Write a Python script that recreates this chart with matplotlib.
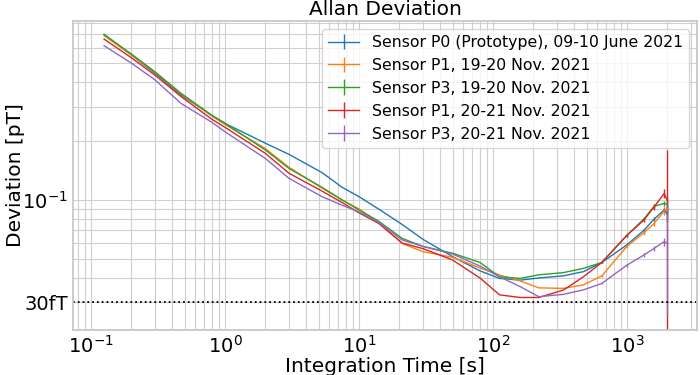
import matplotlib
matplotlib.use("Agg")
import matplotlib.pyplot as plt
import numpy as np

# integration times [s]
tau = [0.125, 0.2, 0.3, 0.47, 0.8, 1.0, 2.0, 3.0, 5.3, 7.5, 10, 14, 21, 30, 50,
       80, 112, 160, 220, 336, 475, 650, 1000, 1340, 1600, 1900, 2000]

# Allan deviation [pT]
p0_june = [0.70, 0.55, 0.443, 0.343, 0.27, 0.246, 0.195, 0.171, 0.138, 0.116,
           0.104, 0.090, 0.075, 0.063, 0.0514, 0.0435, 0.0398, 0.039, 0.040,
           0.041, 0.0431, 0.048, 0.059, 0.070, 0.080, 0.089, 0.085]
p1_nov19 = [0.69, 0.55, 0.448, 0.348, 0.268, 0.243, 0.183, 0.147, 0.115, 0.100,
            0.090, 0.077, 0.060, 0.0545, 0.051, 0.045, 0.0414, 0.0386, 0.0356,
            0.0354, 0.0369, 0.041, 0.058, 0.068, 0.076, 0.088, 0.090]
p3_nov19 = [0.70, 0.556, 0.451, 0.350, 0.27, 0.246, 0.180, 0.145, 0.116, 0.100,
            0.089, 0.078, 0.0637, 0.058, 0.0535, 0.048, 0.0406, 0.0398, 0.0415,
            0.0426, 0.0448, 0.048, 0.066, 0.080, 0.093, 0.096, 0.095]
p1_nov20 = [0.663, 0.532, 0.434, 0.337, 0.258, 0.235, 0.173, 0.137, 0.111, 0.097,
            0.086, 0.076, 0.0603, 0.0565, 0.0494, 0.040, 0.0328, 0.0318, 0.0318,
            0.0347, 0.0406, 0.048, 0.066, 0.079, 0.0924, 0.108, 0.100]
p3_nov20 = [0.613, 0.50, 0.41, 0.311, 0.249, 0.223, 0.163, 0.129, 0.104, 0.094,
            0.087, 0.077, 0.0625, 0.058, 0.053, 0.046, 0.0406, 0.0361, 0.0321,
            0.0330, 0.0348, 0.0375, 0.0465, 0.0524, 0.0567, 0.0613, 0.060]

# error bars on the last points (tau >= 650 s)
p0_err = [0.0005, 0.001, 0.0015, 0.002, 0.003, 0.008]
p1a_err = [0.0005, 0.001, 0.0015, 0.002, 0.004, 0.010]
p3a_err = [0.0005, 0.001, 0.0015, 0.002, 0.003, 0.008]
p1b_err = [0.0005, 0.001, 0.002, 0.003, 0.006, 0.080]
p3b_err = [0.0004, 0.0008, 0.001, 0.0015, 0.003, 0.034]

labels = ["Sensor P0 (Prototype), 09-10 June 2021",
          "Sensor P1, 19-20 Nov. 2021",
          "Sensor P3, 19-20 Nov. 2021",
          "Sensor P1, 20-21 Nov. 2021",
          "Sensor P3, 20-21 Nov. 2021"]
series = [p0_june, p1_nov19, p3_nov19, p1_nov20, p3_nov20]
errors = [p0_err, p1a_err, p3a_err, p1b_err, p3b_err]
colors = ["tab:blue", "tab:orange", "tab:green", "tab:red", "tab:purple"]

fig, ax = plt.subplots(figsize=(7, 3.75), dpi=100)
fig.subplots_adjust(left=0.104, right=0.996, top=0.944, bottom=0.12)

for y, e, lab, c in zip(series, errors, labels, colors):
    yerr = np.concatenate([np.zeros(len(tau) - len(e)), e])
    ax.errorbar(tau, y, yerr=yerr, color=c, lw=1, label=lab)

ax.axhline(0.03, color="black", ls=":", lw=1.3)

ax.set_xscale("log")
ax.set_yscale("log")
ax.set_xlim(0.073, 3350)
ax.set_ylim(0.0217, 0.82)
ax.grid(True, which="both", color="#cfcfcf", lw=0.8)
ax.set_axisbelow(True)
for s in ax.spines.values():
    s.set_color("#c8c8c8")
    s.set_linewidth(1.3)

ax.set_yticks([0.1, 0.03])
ax.set_yticklabels(["$10^{-1}$", "30fT"])
ax.yaxis.set_minor_formatter(matplotlib.ticker.NullFormatter())
ax.tick_params(which="both", length=0, pad=3.5, labelsize=14)

ax.set_title("Allan Deviation", fontsize=14.5, pad=4)
ax.set_xlabel("Integration Time [s]", fontsize=14.5, labelpad=0)
ax.set_ylabel("Deviation [pT]", fontsize=14.5)
ax.yaxis.set_label_coords(-0.077, 0.5)
ax.legend(loc="upper right", fontsize=11.3)

plt.savefig("out.png")
